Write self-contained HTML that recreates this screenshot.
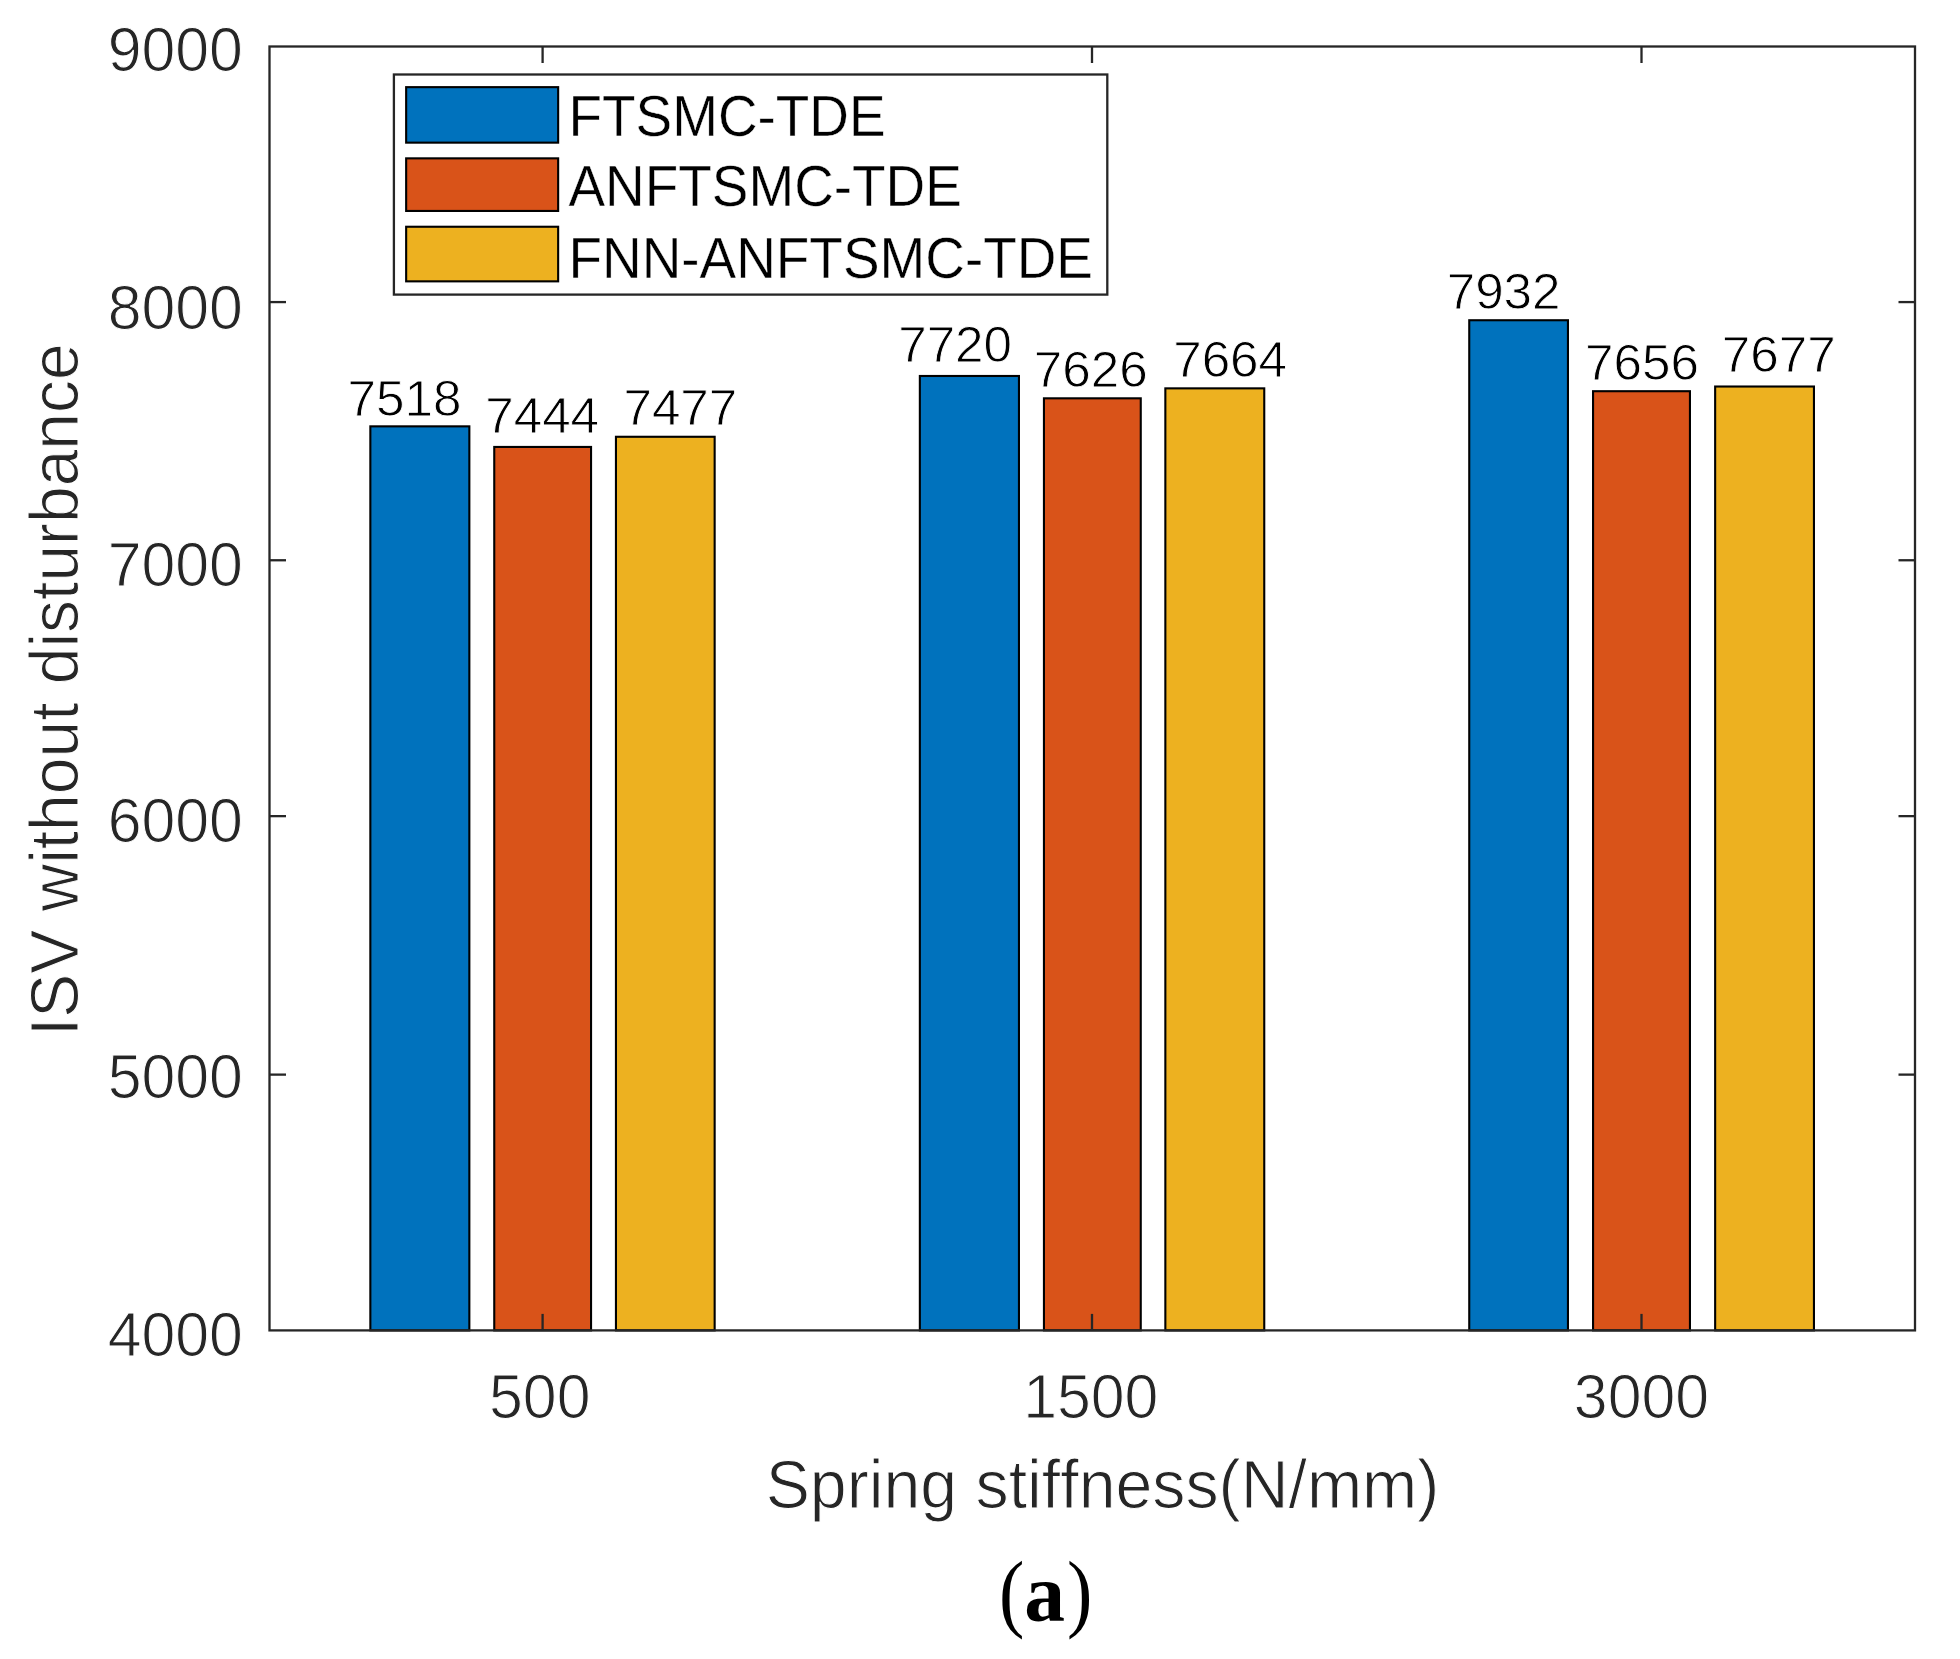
<!DOCTYPE html>
<html lang="en"><head><meta charset="utf-8"><title>ISV without disturbance</title>
<style>
html,body{margin:0;padding:0;background:#fff;}
body{width:1960px;height:1659px;overflow:hidden;}
svg{display:block;}
text{font-family:"Liberation Sans",sans-serif;font-kerning:none;font-variant-ligatures:none;font-feature-settings:"kern" 0,"liga" 0;}
.tk{font-size:60.8px;fill:#262626;stroke:#fff;stroke-width:1px;}
.lb{font-size:66.25px;fill:#262626;stroke:#fff;stroke-width:1px;}
.lby{font-size:65.95px;fill:#262626;stroke:#fff;stroke-width:1px;}
.lg{font-size:54.9px;fill:#000;stroke:#fff;stroke-width:0.4px;}
.bv{font-size:51.2px;fill:#000;stroke:#fff;stroke-width:0.9px;}
.cap{font-family:"Liberation Serif",serif;fill:#000;}
</style></head><body>
<svg width="1960" height="1659" viewBox="0 0 1960 1659">
<rect x="0" y="0" width="1960" height="1659" fill="#ffffff"/>
<g stroke="#000" stroke-width="2.1" stroke-linejoin="miter">
<rect x="370.35" y="426.35" width="99.00" height="904.05" fill="#0072bd"/>
<rect x="494.25" y="446.95" width="96.80" height="883.45" fill="#d95319"/>
<rect x="615.95" y="436.78" width="98.70" height="893.62" fill="#edb120"/>
<rect x="919.85" y="375.98" width="99.10" height="954.42" fill="#0072bd"/>
<rect x="1043.95" y="398.32" width="96.80" height="932.08" fill="#d95319"/>
<rect x="1165.35" y="388.36" width="98.90" height="942.04" fill="#edb120"/>
<rect x="1469.25" y="320.24" width="98.70" height="1010.16" fill="#0072bd"/>
<rect x="1593.05" y="391.21" width="96.90" height="939.19" fill="#d95319"/>
<rect x="1715.15" y="386.52" width="98.80" height="943.88" fill="#edb120"/>
</g>
<rect x="269.5" y="46.5" width="1645.5" height="1283.9" fill="none" stroke="#262626" stroke-width="2.3"/>
<g stroke="#262626" stroke-width="2.3" fill="none">
<line x1="269.5" y1="1074.62" x2="286" y2="1074.62"/>
<line x1="1915" y1="1074.62" x2="1898.5" y2="1074.62"/>
<line x1="269.5" y1="816.14" x2="286" y2="816.14"/>
<line x1="1915" y1="816.14" x2="1898.5" y2="816.14"/>
<line x1="269.5" y1="560.26" x2="286" y2="560.26"/>
<line x1="1915" y1="560.26" x2="1898.5" y2="560.26"/>
<line x1="269.5" y1="302.08" x2="286" y2="302.08"/>
<line x1="1915" y1="302.08" x2="1898.5" y2="302.08"/>
<line x1="542.60" y1="1330.4" x2="542.60" y2="1313.9"/>
<line x1="542.60" y1="46.5" x2="542.60" y2="63"/>
<line x1="1092.00" y1="1330.4" x2="1092.00" y2="1313.9"/>
<line x1="1092.00" y1="46.5" x2="1092.00" y2="63"/>
<line x1="1641.50" y1="1330.4" x2="1641.50" y2="1313.9"/>
<line x1="1641.50" y1="46.5" x2="1641.50" y2="63"/>
</g>
<text class="tk" transform="translate(242.9,1355.80) scale(1,1.03)" text-anchor="end">4000</text>
<text class="tk" transform="translate(242.9,1098.22) scale(1,1.03)" text-anchor="end">5000</text>
<text class="tk" transform="translate(242.9,842.14) scale(1,1.03)" text-anchor="end">6000</text>
<text class="tk" transform="translate(242.9,585.66) scale(1,1.03)" text-anchor="end">7000</text>
<text class="tk" transform="translate(242.9,328.78) scale(1,1.03)" text-anchor="end">8000</text>
<text class="tk" transform="translate(242.9,71.10) scale(1,1.03)" text-anchor="end">9000</text>
<text class="tk" transform="translate(539.75,1417.9) scale(1,1.03)" text-anchor="middle">500</text>
<text class="tk" transform="translate(1090.75,1417.9) scale(1,1.03)" text-anchor="middle">1500</text>
<text class="tk" transform="translate(1641.45,1417.9) scale(1,1.03)" text-anchor="middle">3000</text>
<text class="lb" transform="translate(1102.5,1507.5) scale(1,1.03)" text-anchor="middle">Spring stiffness(N/mm)</text>
<text class="lby" transform="translate(78,689.7) rotate(-90) scale(1,1.03)" text-anchor="middle">ISV without disturbance</text>
<text class="bv" transform="translate(404.50,415.50) scale(1,0.985)" text-anchor="middle">7518</text>
<text class="bv" transform="translate(542.15,432.60) scale(1,0.985)" text-anchor="middle">7444</text>
<text class="bv" transform="translate(680.35,425.10) scale(1,0.985)" text-anchor="middle">7477</text>
<text class="bv" transform="translate(955.10,362.10) scale(1,0.985)" text-anchor="middle">7720</text>
<text class="bv" transform="translate(1090.80,387.20) scale(1,0.985)" text-anchor="middle">7626</text>
<text class="bv" transform="translate(1230.10,377.00) scale(1,0.985)" text-anchor="middle">7664</text>
<text class="bv" transform="translate(1503.60,309.10) scale(1,0.985)" text-anchor="middle">7932</text>
<text class="bv" transform="translate(1642.05,379.50) scale(1,0.985)" text-anchor="middle">7656</text>
<text class="bv" transform="translate(1778.80,372.30) scale(1,0.985)" text-anchor="middle">7677</text>
<rect x="393.9" y="74.5" width="713.4" height="220.1" fill="#ffffff" stroke="#262626" stroke-width="2.3"/>
<rect x="406.15" y="87.15" width="152" height="55.5" fill="#0072bd" stroke="#000" stroke-width="2.1"/>
<rect x="406.15" y="158.35" width="152" height="52.6" fill="#d95319" stroke="#000" stroke-width="2.1"/>
<rect x="406.15" y="226.75" width="152" height="54.6" fill="#edb120" stroke="#000" stroke-width="2.1"/>
<text class="lg" transform="translate(568.5,136) scale(1,1.04)">FTSMC-TDE</text>
<text class="lg" transform="translate(568.5,206.4) scale(1,1.04)">ANFTSMC-TDE</text>
<text class="lg" transform="translate(568.5,277.9) scale(1,1.04)">FNN-ANFTSMC-TDE</text>
<text class="cap" transform="translate(999.1,1620.6) scale(0.875,1)" font-size="87px">(</text>
<text class="cap" transform="translate(1044.5,1621.4) scale(0.99,1)" font-size="82.3px" font-weight="bold" text-anchor="middle">a</text>
<text class="cap" transform="translate(1066.9,1620.6) scale(0.875,1)" font-size="87px">)</text>
</svg>
</body></html>
